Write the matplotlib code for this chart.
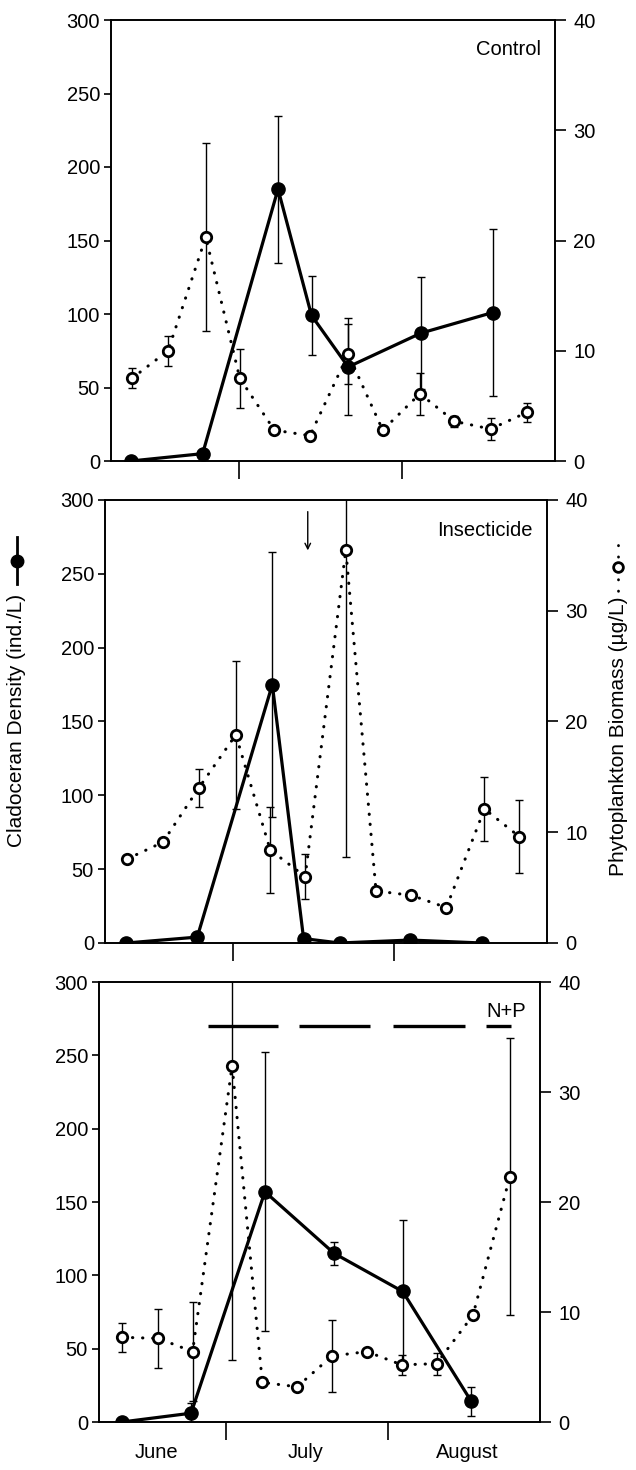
import matplotlib
matplotlib.use("Agg")
import matplotlib.pyplot as plt
from matplotlib.lines import Line2D

plt.rcParams['font.family'] = ['Liberation Sans', 'DejaVu Sans']

# days after 1 June; phytoplankton in ug/L (right axis), cladocerans in ind./L (left axis)
ctrl_phyto_days = [9.5, 16.4, 23.6, 30.1, 36.7, 43.5, 50.8, 57.4, 64.5, 71.1, 78.0, 84.9]
ctrl_phyto = [7.5, 10.0, 20.3, 7.5, 2.8, 2.3, 9.7, 2.8, 6.1, 3.6, 2.9, 4.4]
ctrl_phyto_err = [0.9, 1.35, 8.5, 2.7, 0, 0, 2.7, 0, 1.9, 0.5, 1.0, 0.85]
ctrl_clad_days = [9.3, 23.0, 37.4, 43.8, 50.8, 64.7, 78.4]
ctrl_clad = [0, 5, 185, 99, 64, 87, 101]
ctrl_clad_err = [0, 0, 50, 27, 33, 38, 57]

ins_phyto_days = [9.8, 16.6, 23.5, 30.6, 37.2, 43.9, 51.7, 57.5, 64.3, 71.0, 78.3, 85.0]
ins_phyto = [7.6, 9.1, 14.0, 18.8, 8.4, 6.0, 35.5, 4.7, 4.3, 3.2, 12.1, 9.6]
ins_phyto_err = [0, 0, 1.7, 6.7, 3.9, 2.0, 27.7, 0, 0, 0, 2.9, 3.3]
ins_clad_days = [9.6, 23.2, 37.6, 43.6, 50.5, 64.1, 77.8]
ins_clad = [0, 4, 175, 3, 0, 2, 0]
ins_clad_err = [0, 0, 90, 0, 0, 0, 0]

np_phyto_days = [10.0, 16.9, 23.5, 31.1, 36.9, 43.6, 50.3, 57.0, 63.7, 70.4, 77.4, 84.5]
np_phyto = [7.7, 7.6, 6.4, 32.4, 3.6, 3.2, 6.0, 6.4, 5.2, 5.3, 9.7, 22.3]
np_phyto_err = [1.3, 2.7, 4.5, 26.8, 0, 0, 3.3, 0, 0.9, 1.0, 0, 12.6]
np_clad_days = [9.9, 23.2, 37.4, 50.7, 63.9, 77.1]
np_clad = [0, 6, 157, 115, 89, 14]
np_clad_err = [0, 7, 95, 8, 49, 10]

# insecticide application (arrow) and nutrient additions (bars)
insecticide_day = 44.4
nutrient_start = [26.5, 44.0, 62.0, 79.9]
nutrient_end = [40.0, 57.6, 75.8, 84.7]
nutrient_level = 270

month_names = ['June', 'July', 'August']
month_mid = [16.6, 45.3, 76.4]
month_edges = [30, 61]

panel_names = ['Control', 'Insecticide', 'N+P']

W, H = 636, 1470
fig = plt.figure(figsize=(W / 100, H / 100), dpi=100)

# panel boxes in pixels: left, right, top, bottom
boxes = [(111, 555, 20, 461), (105, 547, 500, 943), (99, 540, 982, 1422)]
panels = [
    (ctrl_phyto_days, ctrl_phyto, ctrl_phyto_err, ctrl_clad_days, ctrl_clad, ctrl_clad_err),
    (ins_phyto_days, ins_phyto, ins_phyto_err, ins_clad_days, ins_clad, ins_clad_err),
    (np_phyto_days, np_phyto, np_phyto_err, np_clad_days, np_clad, np_clad_err),
]

fs = 14.5
for i, (box, data, name) in enumerate(zip(boxes, panels, panel_names)):
    l, r, t, b = box
    ax = fig.add_axes([l / W, 1 - b / H, (r - l) / W, (b - t) / H])
    ax2 = ax.twinx()
    pd_, pv, pe, cd, cv, ce = data

    ax.errorbar(cd, cv, yerr=ce, color='black', lw=2.3, marker='o', ms=9.5,
                mfc='black', mec='black', ecolor='black', elinewidth=1,
                capsize=3, capthick=1)
    ax2.errorbar(pd_, pv, yerr=pe, fmt='none', ecolor='black', elinewidth=1,
                 capsize=3, capthick=1)
    ax2.plot(pd_, pv, color='black', lw=2.2, linestyle=(0, (0.1, 3.2)),
             dash_capstyle='round', marker='o', ms=7.5, mfc='white',
             mec='black', mew=2.0)

    ax.set_xlim(5.5, 90.3)
    ax.set_ylim(0, 300)
    ax2.set_ylim(0, 40)
    ax.set_yticks([0, 50, 100, 150, 200, 250, 300])
    ax2.set_yticks([0, 10, 20, 30, 40])
    ax.set_xticks(month_edges)
    ax.set_xticklabels([])
    for a in (ax, ax2):
        for s in a.spines.values():
            s.set_linewidth(1.2)
    ax.tick_params(axis='y', direction='out', length=5, width=1.2,
                   labelsize=fs, pad=3)
    ax2.tick_params(axis='y', direction='out', length=8, width=1.2,
                    labelsize=fs, pad=5)
    ax.tick_params(axis='x', direction='out', length=13, width=1.2)

    ax.text(0.968, 0.932, name, transform=ax.transAxes, ha='right',
            va='center', fontsize=fs)

    if i == 1:
        ax.annotate('', xy=(insecticide_day, 264), xytext=(insecticide_day, 294),
                    arrowprops=dict(arrowstyle='->', lw=1, color='black'))
    if i == 2:
        ax.hlines([nutrient_level] * len(nutrient_start), nutrient_start,
                  nutrient_end, color='black', lw=2.4)
        ax.set_xticks(month_mid, minor=True)
        ax.set_xticklabels(month_names, minor=True, fontsize=fs)
        ax.tick_params(axis='x', which='minor', length=0, pad=15)

# axis titles
fig.text(17 / W, 1 - 720 / H, 'Cladoceran Density (ind./L)', rotation=90,
         ha='center', va='center', fontsize=15)
fig.add_artist(Line2D([17 / W, 17 / W], [1 - 537 / H, 1 - 584 / H],
                      transform=fig.transFigure, color='black', lw=2))
fig.add_artist(Line2D([17 / W], [1 - 561 / H], transform=fig.transFigure,
                      marker='o', ms=9, mfc='black', mec='black'))

fig.text(618 / W, 1 - 736 / H, 'Phytoplankton Biomass (µg/L)', rotation=90,
         ha='center', va='center', fontsize=15)
fig.add_artist(Line2D([618 / W, 618 / W], [1 - 545 / H, 1 - 596 / H],
                      transform=fig.transFigure, color='black', lw=2,
                      linestyle=(0, (0.1, 4)), dash_capstyle='round'))
fig.add_artist(Line2D([618 / W], [1 - 567 / H], transform=fig.transFigure,
                      marker='o', ms=7, mfc='white', mec='black', mew=2))

fig.savefig('out.png', dpi=100)
